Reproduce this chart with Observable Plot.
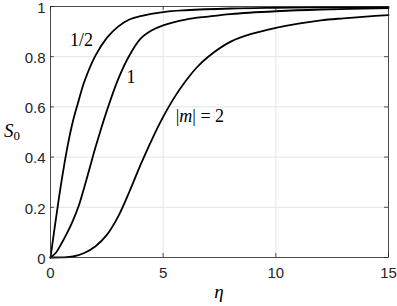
<!DOCTYPE html>
<html>
<head>
<meta charset="utf-8">
<script src="https://cdn.jsdelivr.net/npm/d3@7"></script>
<script src="https://cdn.jsdelivr.net/npm/@observablehq/plot@0.6"></script>
<style>
  html, body { margin: 0; padding: 0; background: #fff; }
  #chart { width: 397px; height: 306px; }
  #chart svg { overflow: visible; }
</style>
</head>
<body>
<div id="chart"></div>
<script>
const etaHalf = [0, 0.25, 0.5, 0.75, 1, 1.25, 1.5, 2, 2.5, 3, 3.5, 4, 5, 6, 8, 10, 12, 15];
const sHalf   = [0, 0.16, 0.31, 0.44, 0.545, 0.625, 0.7, 0.805, 0.875, 0.92, 0.948, 0.962, 0.978, 0.985, 0.992, 0.995, 0.997, 0.998];

const etaOne = [0, 0.25, 0.5, 0.75, 1, 1.25, 1.5, 1.75, 2, 2.5, 3, 3.5, 4, 4.5, 5, 6, 7, 8, 10, 12, 15];
const sOne   = [0, 0.02, 0.058, 0.1, 0.148, 0.205, 0.28, 0.36, 0.44, 0.585, 0.71, 0.805, 0.872, 0.905, 0.925, 0.948, 0.96, 0.97, 0.981, 0.988, 0.994];

const etaTwo = [0, 0.5, 1, 1.5, 2, 2.5, 3, 3.5, 4, 4.5, 5, 5.5, 6, 6.5, 7, 8, 9, 10, 11, 12, 13, 14, 15];
const sTwo   = [0, 0.0005, 0.004, 0.018, 0.045, 0.09, 0.163, 0.262, 0.37, 0.47, 0.56, 0.638, 0.703, 0.758, 0.8, 0.86, 0.893, 0.915, 0.932, 0.945, 0.953, 0.96, 0.966];

const xTicks = [0, 5, 10, 15];
const yTicks = [0, 0.2, 0.4, 0.6, 0.8, 1];

const curveLabels = ["1/2", "1", "|m| = 2"];
const labelEta = [1.38, 3.57, 6.63];
const labelS = [0.865, 0.717, 0.562];

const series = [
  ...etaHalf.map((e, i) => ({eta: e, s: sHalf[i], m: "1/2"})),
  ...etaOne.map((e, i) => ({eta: e, s: sOne[i], m: "1"})),
  ...etaTwo.map((e, i) => ({eta: e, s: sTwo[i], m: "2"}))
];
const labels = curveLabels.map((t, i) => ({t, eta: labelEta[i], s: labelS[i]}));

const W = 397, H = 306;
const mT = 6, mR = 9, mB = 49, mL = 50;
const innerH = H - mT - mB, innerW = W - mL - mR;
const tl = 4;
const axisColor = "#262626";

const plot = Plot.plot({
  width: W, height: H,
  marginTop: mT, marginRight: mR, marginBottom: mB, marginLeft: mL,
  style: {fontFamily: "'Liberation Sans', Arial, sans-serif", background: "#fff", overflow: "visible"},
  x: {domain: [0, 15]},
  y: {domain: [0, 1]},
  marks: [
    Plot.gridX(xTicks, {stroke: "#e4e4e4", strokeOpacity: 1, strokeWidth: 1}),
    Plot.gridY(yTicks, {stroke: "#e4e4e4", strokeOpacity: 1, strokeWidth: 1}),
    Plot.line(series, {x: "eta", y: "s", z: "m", stroke: "#000", strokeWidth: 1.8, curve: "catmull-rom"}),
    Plot.ruleX(xTicks, {x: d => d, stroke: axisColor, strokeWidth: 0.8, insetTop: innerH - tl}),
    Plot.ruleX(xTicks, {x: d => d, stroke: axisColor, strokeWidth: 0.8, insetBottom: innerH - tl}),
    Plot.ruleY(yTicks, {y: d => d, stroke: axisColor, strokeWidth: 0.8, insetRight: innerW - tl}),
    Plot.ruleY(yTicks, {y: d => d, stroke: axisColor, strokeWidth: 0.8, insetLeft: innerW - tl}),
    Plot.frame({stroke: axisColor, strokeWidth: 0.8}),
    Plot.axisX(xTicks, {tickSize: 0, tickPadding: 10, fontSize: 15, label: null, color: axisColor, tickFormat: d => String(d)}),
    Plot.axisY(yTicks, {tickSize: 0, tickPadding: 5, dy: 1.5, fontSize: 15, label: null, color: axisColor, tickFormat: d => String(d)}),
    Plot.text(labels, {x: "eta", y: "s", text: "t", fontSize: 18, fontFamily: "'Liberation Serif', 'DejaVu Serif', serif", fill: "#000", textAnchor: "middle"})
  ]
});

document.getElementById("chart").appendChild(plot);

const svg = d3.select(plot);
// italic m in "|m| = 2"
svg.selectAll("text").filter(function() { return this.textContent === "|m| = 2"; })
  .each(function() {
    const t = d3.select(this);
    t.text(null);
    t.append("tspan").text("|");
    t.append("tspan").attr("font-style", "italic").text("m");
    t.append("tspan").text("| = 2");
  });

// axis labels
const serif = "'Liberation Serif', 'DejaVu Serif', serif";
svg.append("text")
  .attr("x", mL + innerW / 2).attr("y", 298)
  .attr("text-anchor", "middle")
  .attr("font-family", serif).attr("font-style", "italic").attr("font-size", 19)
  .attr("fill", "#000")
  .text("η");
const yl = svg.append("text")
  .attr("x", 4).attr("y", 137)
  .attr("text-anchor", "start")
  .attr("font-family", serif).attr("font-size", 19)
  .attr("fill", "#000");
yl.append("tspan").attr("font-style", "italic").text("S");
yl.append("tspan").attr("font-size", 13).attr("dy", 3).text("0");
</script>
</body>
</html>
